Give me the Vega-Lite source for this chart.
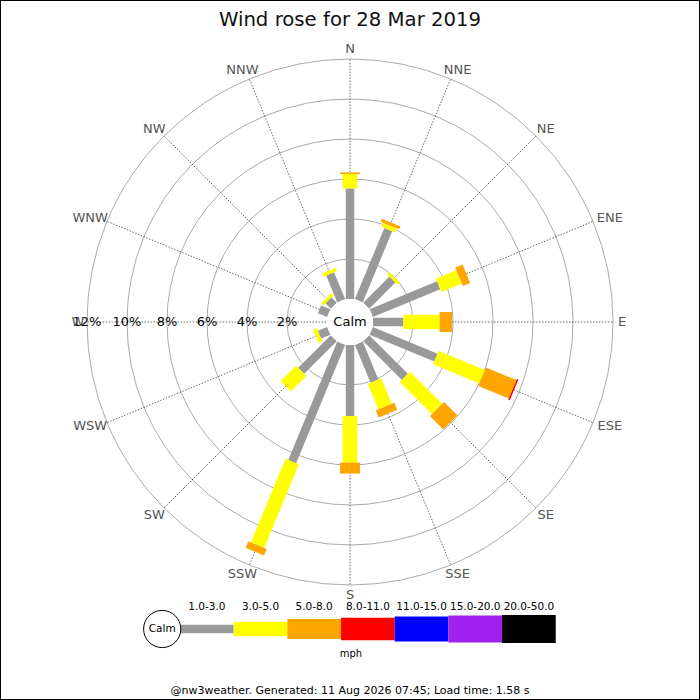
{
  "$schema": "https://vega.github.io/schema/vega-lite/v6.json",
  "description": "Wind rose for 28 Mar 2019",
  "width": 700,
  "height": 700,
  "autosize": {"type": "none"},
  "padding": 0,
  "background": "white",
  "config": {
    "font": "DejaVu Sans",
    "view": {"stroke": "#000", "strokeWidth": 2},
    "axis": {"disable": true}
  },
  "datasets": {
    "dirs": [
      {"dir": "N", "deg": 0}, {"dir": "NNE", "deg": 22.5}, {"dir": "NE", "deg": 45}, {"dir": "ENE", "deg": 67.5},
      {"dir": "E", "deg": 90}, {"dir": "ESE", "deg": 112.5}, {"dir": "SE", "deg": 135}, {"dir": "SSE", "deg": 157.5},
      {"dir": "S", "deg": 180}, {"dir": "SSW", "deg": 202.5}, {"dir": "SW", "deg": 225}, {"dir": "WSW", "deg": 247.5},
      {"dir": "W", "deg": 270}, {"dir": "WNW", "deg": 292.5}, {"dir": "NW", "deg": 315}, {"dir": "NNW", "deg": 337.5}
    ],
    "rings": [{"pct": 2}, {"pct": 4}, {"pct": 6}, {"pct": 8}, {"pct": 10}, {"pct": 12}],
    "bins": [
      {"bin": "1.0-3.0", "order": 1}, {"bin": "3.0-5.0", "order": 2}, {"bin": "5.0-8.0", "order": 3},
      {"bin": "8.0-11.0", "order": 4}, {"bin": "11.0-15.0", "order": 5}, {"bin": "15.0-20.0", "order": 6},
      {"bin": "20.0-50.0", "order": 7}
    ],
    "bars": [
      {"dir": "N", "deg": 0, "bin": "1.0-3.0", "pct": 5.53},
      {"dir": "N", "deg": 0, "bin": "3.0-5.0", "pct": 0.72},
      {"dir": "N", "deg": 0, "bin": "5.0-8.0", "pct": 0.08},
      {"dir": "NNE", "deg": 22.5, "bin": "1.0-3.0", "pct": 3.85},
      {"dir": "NNE", "deg": 22.5, "bin": "3.0-5.0", "pct": 0.22},
      {"dir": "NNE", "deg": 22.5, "bin": "5.0-8.0", "pct": 0.16},
      {"dir": "NE", "deg": 45, "bin": "1.0-3.0", "pct": 1.85},
      {"dir": "NE", "deg": 45, "bin": "3.0-5.0", "pct": 0.15},
      {"dir": "ENE", "deg": 67.5, "bin": "1.0-3.0", "pct": 3.65},
      {"dir": "ENE", "deg": 67.5, "bin": "3.0-5.0", "pct": 1.1},
      {"dir": "ENE", "deg": 67.5, "bin": "5.0-8.0", "pct": 0.4},
      {"dir": "E", "deg": 90, "bin": "1.0-3.0", "pct": 1.52},
      {"dir": "E", "deg": 90, "bin": "3.0-5.0", "pct": 1.81},
      {"dir": "E", "deg": 90, "bin": "5.0-8.0", "pct": 0.62},
      {"dir": "ESE", "deg": 112.5, "bin": "1.0-3.0", "pct": 3.5},
      {"dir": "ESE", "deg": 112.5, "bin": "3.0-5.0", "pct": 2.5},
      {"dir": "ESE", "deg": 112.5, "bin": "5.0-8.0", "pct": 1.65},
      {"dir": "ESE", "deg": 112.5, "bin": "8.0-11.0", "pct": 0.08},
      {"dir": "SE", "deg": 135, "bin": "1.0-3.0", "pct": 2.73},
      {"dir": "SE", "deg": 135, "bin": "3.0-5.0", "pct": 2.27},
      {"dir": "SE", "deg": 135, "bin": "5.0-8.0", "pct": 0.95},
      {"dir": "SSE", "deg": 157.5, "bin": "1.0-3.0", "pct": 2.05},
      {"dir": "SSE", "deg": 157.5, "bin": "3.0-5.0", "pct": 1.38},
      {"dir": "SSE", "deg": 157.5, "bin": "5.0-8.0", "pct": 0.38},
      {"dir": "S", "deg": 180, "bin": "1.0-3.0", "pct": 3.55},
      {"dir": "S", "deg": 180, "bin": "3.0-5.0", "pct": 2.33},
      {"dir": "S", "deg": 180, "bin": "5.0-8.0", "pct": 0.55},
      {"dir": "SSW", "deg": 202.5, "bin": "1.0-3.0", "pct": 6.4},
      {"dir": "SSW", "deg": 202.5, "bin": "3.0-5.0", "pct": 4.53},
      {"dir": "SSW", "deg": 202.5, "bin": "5.0-8.0", "pct": 0.35},
      {"dir": "SW", "deg": 225, "bin": "1.0-3.0", "pct": 2.3},
      {"dir": "SW", "deg": 225, "bin": "3.0-5.0", "pct": 1.1},
      {"dir": "WSW", "deg": 247.5, "bin": "1.0-3.0", "pct": 0.5},
      {"dir": "WSW", "deg": 247.5, "bin": "3.0-5.0", "pct": 0.2},
      {"dir": "WNW", "deg": 292.5, "bin": "1.0-3.0", "pct": 0.5},
      {"dir": "NW", "deg": 315, "bin": "1.0-3.0", "pct": 0.38},
      {"dir": "NW", "deg": 315, "bin": "3.0-5.0", "pct": 0.15},
      {"dir": "NNW", "deg": 337.5, "bin": "1.0-3.0", "pct": 1.45},
      {"dir": "NNW", "deg": 337.5, "bin": "3.0-5.0", "pct": 0.17}
    ]
  },
  "layer": [
    {
      "data": {"name": "rings"},
      "transform": [{"calculate": "1.15 + datum.pct", "as": "r"}],
      "mark": {"type": "point", "shape": "circle", "filled": false, "stroke": "#aaaaaa", "strokeWidth": 1, "opacity": 1},
      "encoding": {
        "x": {"datum": 0, "type": "quantitative", "scale": {"domain": [-17.5, 17.5], "nice": false, "zero": false}},
        "y": {"datum": 0, "type": "quantitative", "scale": {"domain": [-18.9, 16.1], "nice": false, "zero": false}},
        "size": {"field": "r", "type": "quantitative", "legend": null, "scale": {"type": "pow", "exponent": 2, "domain": [0, 17.5], "range": [0, 490000], "nice": false, "zero": true}}
      }
    },
    {
      "data": {"name": "dirs"},
      "transform": [
        {"calculate": "datum.deg * PI / 180", "as": "a"},
        {"calculate": "0", "as": "ox"},
        {"calculate": "13.15 * sin(datum.a)", "as": "sx"},
        {"calculate": "13.15 * cos(datum.a)", "as": "sy"}
      ],
      "mark": {"type": "rule", "color": "#444444", "strokeWidth": 0.8, "strokeDash": [1.5, 1.5]},
      "encoding": {
        "x": {"field": "ox", "type": "quantitative", "scale": {"domain": [-17.5, 17.5], "nice": false, "zero": false}},
        "y": {"field": "ox", "type": "quantitative", "scale": {"domain": [-18.9, 16.1], "nice": false, "zero": false}},
        "x2": {"field": "sx"},
        "y2": {"field": "sy"}
      }
    },
    {
      "data": {"name": "bars"},
      "transform": [
        {"lookup": "bin", "from": {"data": {"name": "bins"}, "key": "bin", "fields": ["order"]}},
        {"stack": "pct", "groupby": ["dir"], "sort": [{"field": "order", "order": "ascending"}], "as": ["lo", "hi"]},
        {"calculate": "datum.deg * PI / 180", "as": "a"},
        {"calculate": "(1.15 + datum.lo) * sin(datum.a)", "as": "x0"},
        {"calculate": "(1.15 + datum.lo) * cos(datum.a)", "as": "y0"},
        {"calculate": "(1.15 + datum.hi) * sin(datum.a)", "as": "x1"},
        {"calculate": "(1.15 + datum.hi) * cos(datum.a)", "as": "y1"}
      ],
      "mark": {"type": "rule", "strokeCap": "butt"},
      "encoding": {
        "x": {"field": "x0", "type": "quantitative", "scale": {"domain": [-17.5, 17.5], "nice": false, "zero": false}},
        "y": {"field": "y0", "type": "quantitative", "scale": {"domain": [-18.9, 16.1], "nice": false, "zero": false}},
        "x2": {"field": "x1"},
        "y2": {"field": "y1"},
        "color": {
          "field": "bin", "type": "nominal", "legend": null,
          "scale": {
            "domain": ["1.0-3.0", "3.0-5.0", "5.0-8.0", "8.0-11.0", "11.0-15.0", "15.0-20.0", "20.0-50.0"],
            "range": ["#999999", "#ffff00", "#ffa500", "#ff0000", "#0000ff", "#a020f0", "#000000"]
          }
        },
        "strokeWidth": {
          "field": "order", "type": "quantitative", "legend": null,
          "scale": {"domain": [1, 2, 3, 4, 5, 6, 7], "range": [8.5, 14.5, 20, 22.5, 25, 27, 28], "zero": false, "nice": false}
        }
      }
    },
    {
      "data": {"values": [{"label": "Calm", "r": 1.15}]},
      "mark": {"type": "point", "shape": "circle", "filled": true, "color": "white", "opacity": 1, "strokeWidth": 0},
      "encoding": {
        "x": {"datum": 0, "type": "quantitative", "scale": {"domain": [-17.5, 17.5], "nice": false, "zero": false}},
        "y": {"datum": 0, "type": "quantitative", "scale": {"domain": [-18.9, 16.1], "nice": false, "zero": false}},
        "size": {"field": "r", "type": "quantitative", "legend": null}
      }
    },
    {
      "data": {"values": [{"label": "Calm"}]},
      "mark": {"type": "text", "fontSize": 13, "color": "#000", "align": "center", "baseline": "middle"},
      "encoding": {
        "x": {"datum": 0, "type": "quantitative", "scale": {"domain": [-17.5, 17.5], "nice": false, "zero": false}},
        "y": {"datum": 0, "type": "quantitative", "scale": {"domain": [-18.9, 16.1], "nice": false, "zero": false}},
        "text": {"field": "label"}
      }
    },
    {
      "data": {"name": "rings"},
      "transform": [{"calculate": "-(1.15 + datum.pct)", "as": "px"}, {"calculate": "0", "as": "py"}, {"calculate": "datum.pct + '%'", "as": "label"}],
      "mark": {"type": "text", "fontSize": 13, "color": "#000", "align": "center", "baseline": "middle"},
      "encoding": {
        "x": {"field": "px", "type": "quantitative", "scale": {"domain": [-17.5, 17.5], "nice": false, "zero": false}},
        "y": {"field": "py", "type": "quantitative", "scale": {"domain": [-18.9, 16.1], "nice": false, "zero": false}},
        "text": {"field": "label"}
      }
    },
    {
      "data": {"name": "dirs"},
      "transform": [
        {"calculate": "datum.deg * PI / 180", "as": "a"},
        {"calculate": "(13.375 + 0.23 * length(datum.dir)) * sin(datum.a)", "as": "lx"},
        {"calculate": "13.375 * cos(datum.a) + 0.27 * cos(datum.a)", "as": "ly"}
      ],
      "mark": {"type": "text", "fontSize": 13, "color": "#555555", "align": "center", "baseline": "middle"},
      "encoding": {
        "x": {"field": "lx", "type": "quantitative", "scale": {"domain": [-17.5, 17.5], "nice": false, "zero": false}},
        "y": {"field": "ly", "type": "quantitative", "scale": {"domain": [-18.9, 16.1], "nice": false, "zero": false}},
        "text": {"field": "dir"}
      }
    },
    {
      "data": {"name": "bins"},
      "transform": [
        {"calculate": "-8.5 + (datum.order - 1) * 2.684", "as": "lx0"},
        {"calculate": "datum.lx0 + 2.684", "as": "lx1"},
        {"calculate": "-15.35", "as": "ly"}
      ],
      "mark": {"type": "rule", "strokeCap": "butt"},
      "encoding": {
        "x": {"field": "lx0", "type": "quantitative", "scale": {"domain": [-17.5, 17.5], "nice": false, "zero": false}},
        "y": {"field": "ly", "type": "quantitative", "scale": {"domain": [-18.9, 16.1], "nice": false, "zero": false}},
        "x2": {"field": "lx1"},
        "color": {"field": "bin", "type": "nominal", "legend": null},
        "strokeWidth": {"field": "order", "type": "quantitative", "legend": null}
      }
    },
    {
      "data": {"name": "bins"},
      "transform": [
        {"calculate": "-8.5 + (datum.order - 0.5) * 2.684", "as": "lxc"},
        {"calculate": "-14.25", "as": "ly"}
      ],
      "mark": {"type": "text", "fontSize": 10.5, "color": "#000", "align": "center", "baseline": "middle"},
      "encoding": {
        "x": {"field": "lxc", "type": "quantitative", "scale": {"domain": [-17.5, 17.5], "nice": false, "zero": false}},
        "y": {"field": "ly", "type": "quantitative", "scale": {"domain": [-18.9, 16.1], "nice": false, "zero": false}},
        "text": {"field": "bin"}
      }
    },
    {
      "data": {"values": [{"label": "Calm", "r": 0.93, "lx": -9.39, "ly": -15.35}]},
      "mark": {"type": "point", "shape": "circle", "filled": false, "fill": "white", "stroke": "#000", "strokeWidth": 1, "opacity": 1},
      "encoding": {
        "x": {"field": "lx", "type": "quantitative", "scale": {"domain": [-17.5, 17.5], "nice": false, "zero": false}},
        "y": {"field": "ly", "type": "quantitative", "scale": {"domain": [-18.9, 16.1], "nice": false, "zero": false}},
        "size": {"field": "r", "type": "quantitative", "legend": null}
      }
    },
    {
      "data": {"values": [{"label": "Calm", "lx": -9.39, "ly": -15.35}]},
      "mark": {"type": "text", "fontSize": 10.5, "color": "#000", "align": "center", "baseline": "middle"},
      "encoding": {
        "x": {"field": "lx", "type": "quantitative", "scale": {"domain": [-17.5, 17.5], "nice": false, "zero": false}},
        "y": {"field": "ly", "type": "quantitative", "scale": {"domain": [-18.9, 16.1], "nice": false, "zero": false}},
        "text": {"field": "label"}
      }
    },
    {
      "data": {"values": [{"label": "mph", "lx": 0.05, "ly": -16.6}]},
      "mark": {"type": "text", "fontSize": 10, "color": "#000", "align": "center", "baseline": "middle"},
      "encoding": {
        "x": {"field": "lx", "type": "quantitative", "scale": {"domain": [-17.5, 17.5], "nice": false, "zero": false}},
        "y": {"field": "ly", "type": "quantitative", "scale": {"domain": [-18.9, 16.1], "nice": false, "zero": false}},
        "text": {"field": "label"}
      }
    },
    {
      "data": {"values": [{"label": "@nw3weather. Generated: 11 Aug 2026 07:45; Load time: 1.58 s", "lx": 0, "ly": -18.45}]},
      "mark": {"type": "text", "fontSize": 11, "color": "#000", "align": "center", "baseline": "middle"},
      "encoding": {
        "x": {"field": "lx", "type": "quantitative", "scale": {"domain": [-17.5, 17.5], "nice": false, "zero": false}},
        "y": {"field": "ly", "type": "quantitative", "scale": {"domain": [-18.9, 16.1], "nice": false, "zero": false}},
        "text": {"field": "label"}
      }
    },
    {
      "data": {"values": [{"label": "Wind rose for 28 Mar 2019", "lx": 0, "ly": 14.825}]},
      "mark": {"type": "text", "fontSize": 19.7, "color": "#111", "align": "center", "baseline": "alphabetic"},
      "encoding": {
        "x": {"field": "lx", "type": "quantitative", "scale": {"domain": [-17.5, 17.5], "nice": false, "zero": false}},
        "y": {"field": "ly", "type": "quantitative", "scale": {"domain": [-18.9, 16.1], "nice": false, "zero": false}},
        "text": {"field": "label"}
      }
    }
  ]
}
